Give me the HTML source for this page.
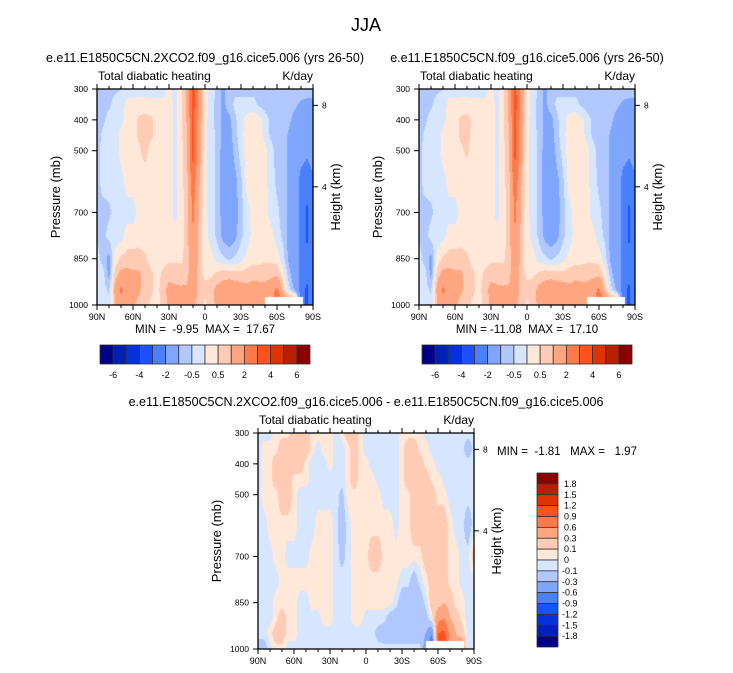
<!DOCTYPE html>
<html><head><meta charset="utf-8"><style>
body{margin:0;background:#fff;}
#root{position:relative;width:733px;height:673px;overflow:hidden;font-family:"Liberation Sans",sans-serif;}
canvas{position:absolute;}
svg{position:absolute;left:0;top:0;}
svg text{white-space:pre;}
</style></head><body>
<div id="root">
<canvas id="c1" width="216" height="216" style="left:97px;top:89px"></canvas>
<canvas id="c2" width="216" height="216" style="left:419px;top:89px"></canvas>
<canvas id="c3" width="216" height="216" style="left:258px;top:433px"></canvas>
<svg id="ov" width="733" height="673"></svg>
</div>
<script>
// pressure levels (mb) of data rows
const pressures=[300,350,400,450,500,600,700,775,850,900,950,1000];
// latitudes of data columns, 90N (+) to 90S (-), every 5 deg
const lats=[];for(let i=0;i<37;i++)lats.push(90-5*i);
const xTickLabels=["90N","60N","30N","0","30S","60S","90S"];
const pTicks=[300,400,500,700,850,1000];
const hTicks=[{km:8,p:353},{km:4,p:617}];
const levels12=[-6,-5,-4,-3,-2,-1,-0.5,0,0.5,1,2,3,4,5,6];
const cbLabels12=["-6","-4","-2","-0.5","0.5","2","4","6"];
const levels3=[-1.8,-1.5,-1.2,-0.9,-0.6,-0.3,-0.1,0,0.1,0.3,0.6,0.9,1.2,1.5,1.8];
const cbLabels3=["1.8","1.5","1.2","0.9","0.6","0.3","0.1","0","-0.1","-0.3","-0.6","-0.9","-1.2","-1.5","-1.8"];
const colors=["#00008a","#0022b4","#0033dd","#1e50ff","#4a7fff","#7fa6ff","#b0c8ff","#d6e6ff","#ffe8d8","#ffcbb4","#ffa680","#ff7a4a","#ff5220","#e03400","#b82000","#8a0000"];
// panel 1 field: one row per latitude column (90N..90S), values at pressures
const field1=[
[-0.7,-0.7,-0.7,-0.7,-0.7,-0.7,-0.6,-0.6,-0.3,-0.3,-0.3,-0.3],
[-0.7,-0.7,-0.6,-0.4,-0.3,-0.3,-0.7,-0.7,-0.7,-0.3,-0.3,-0.3],
[-0.7,-0.6,-0.3,-0.3,-0.3,-0.3,-0.6,-0.3,-1.2,-1.2,-0.6,-0.3],
[-0.6,-0.3,-0.3,-0.3,-0.3,-0.3,-0.3,-0.3,0.2,0.7,1.2,1.0],
[-0.5,-0.3,-0.2,0.2,0.2,-0.2,-0.3,-0.2,0.6,1.2,2.2,1.6],
[-0.3,0.2,0.3,0.3,0.3,0.2,-0.2,0.2,0.7,1.2,1.6,1.2],
[-0.3,0.2,0.3,0.3,0.3,0.2,-0.2,0.2,0.7,1.1,1.3,1.1],
[-0.2,0.2,0.6,0.6,0.4,0.2,0.2,0.3,0.7,1.1,1.1,0.8],
[-0.2,0.2,0.7,0.7,0.7,0.2,0.2,0.2,0.6,0.8,0.8,0.6],
[-0.3,0.2,0.6,0.6,0.3,0.2,0.2,0.2,0.3,0.6,0.6,0.4],
[-0.3,0.2,0.3,0.3,0.3,0.3,0.2,0.2,0.3,0.3,0.3,0.3],
[-0.3,0.2,0.3,0.3,0.3,0.3,0.3,0.3,0.3,0.6,0.8,0.7],
[0.2,0.3,0.3,0.3,0.3,0.3,0.3,0.3,0.4,0.8,1.2,1.1],
[-0.2,-0.2,-0.2,-0.2,-0.2,-0.2,-0.2,0.2,0.4,0.8,1.1,1.1],
[0.3,0.4,0.4,0.4,0.3,0.3,0.3,0.3,0.4,0.7,1.1,1.0],
[1.1,1.1,1.1,0.9,0.9,0.8,0.7,0.7,0.7,0.8,1.1,1.0],
[3.5,3.5,3.2,3.2,3.5,2.6,2.2,2.0,1.8,1.6,1.5,1.2],
[1.6,1.8,1.6,1.5,1.4,1.1,0.9,0.9,0.8,0.7,0.8,0.7],
[0.3,0.3,0.2,0.2,0.2,0.2,0.2,0.2,0.2,0.4,0.6,0.4],
[-0.2,-0.3,-0.3,-0.3,-0.3,-0.3,-0.3,-0.2,0.2,0.4,0.8,0.7],
[-0.6,-0.7,-0.7,-0.6,-0.6,-0.6,-0.6,-0.6,-0.2,0.6,1.2,1.2],
[-1.2,-1.2,-1.2,-1.2,-1.3,-1.3,-1.3,-1.2,-0.4,0.8,1.3,1.3],
[-0.7,-0.7,-1.2,-1.3,-1.4,-1.5,-1.5,-1.4,-0.6,0.8,1.4,1.4],
[-0.6,-0.4,-0.6,-0.7,-0.8,-1.2,-1.3,-1.2,-0.4,0.7,1.4,1.4],
[-0.7,-0.3,-0.2,-0.2,-0.3,-0.6,-0.7,-0.6,-0.2,0.7,1.3,1.3],
[-0.7,-0.3,0.2,0.3,0.3,0.2,-0.2,-0.3,0.2,0.7,1.2,1.2],
[-0.7,-0.3,0.3,0.3,0.3,0.3,0.2,0.2,0.3,0.8,1.3,1.5],
[-0.7,-0.6,0.2,0.3,0.3,0.3,0.3,0.2,0.3,0.8,1.2,1.3],
[-0.7,-0.7,-0.3,-0.2,0.2,0.2,0.2,0.2,0.4,0.8,1.2,1.3],
[-0.7,-0.7,-0.6,-0.6,-0.3,-0.3,-0.2,0.2,0.4,0.8,1.5,1.5],
[-0.7,-0.7,-0.7,-0.7,-0.7,-0.6,-0.4,-0.3,0.3,0.8,2.2,3.5],
[-0.7,-0.7,-0.7,-0.7,-0.7,-0.7,-0.7,-0.6,-0.3,0.3,0.8,2.5],
[-0.7,-0.8,-0.9,-1.1,-1.2,-1.2,-1.2,-1.2,-1.2,-0.8,-0.3,2.0],
[-0.7,-0.9,-1.2,-1.3,-1.4,-1.5,-1.5,-1.5,-1.5,-1.5,-1.2,3.0],
[-0.7,-1.1,-1.3,-1.4,-1.6,-2.3,-2.3,-2.2,-2.2,-2.3,-2.5,-2.5],
[-0.7,-1.2,-1.3,-1.5,-1.8,-2.6,-3.2,-3.2,-2.8,-2.8,-3.2,-3.2],
[-0.7,-1.2,-1.2,-1.4,-1.5,-2.2,-2.3,-2.2,-2.2,-2.2,-2.2,-2.2]];
// panel 2 field (control run)
const field2=[
[-0.7,-0.7,-0.7,-0.7,-0.7,-0.7,-0.6,-0.6,-0.3,-0.3,-0.3,-0.3],
[-0.7,-0.7,-0.6,-0.4,-0.3,-0.3,-0.7,-0.7,-0.7,-0.3,-0.3,-0.3],
[-0.7,-0.6,-0.3,-0.3,-0.3,-0.3,-0.6,-0.3,-1.2,-1.2,-0.6,-0.3],
[-0.6,-0.3,-0.3,-0.3,-0.3,-0.3,-0.3,-0.3,0.2,0.7,1.2,1.0],
[-0.5,-0.3,-0.2,0.2,0.2,-0.2,-0.3,-0.2,0.6,1.2,2.2,1.6],
[-0.3,0.2,0.3,0.3,0.3,0.2,-0.2,0.2,0.7,1.2,1.6,1.2],
[-0.3,0.2,0.3,0.3,0.3,0.2,-0.2,0.2,0.7,1.1,1.3,1.1],
[-0.2,0.2,0.6,0.6,0.4,0.2,0.2,0.3,0.7,1.1,1.1,0.8],
[-0.2,0.2,0.7,0.6,0.6,0.2,0.2,0.2,0.6,0.8,0.8,0.6],
[-0.3,0.2,0.4,0.4,0.3,0.2,0.2,0.2,0.3,0.6,0.6,0.4],
[-0.3,0.2,0.3,0.3,0.3,0.3,0.2,0.2,0.3,0.3,0.3,0.3],
[-0.3,0.2,0.3,0.3,0.3,0.3,0.3,0.3,0.3,0.6,0.8,0.7],
[0.2,0.3,0.3,0.3,0.3,0.3,0.3,0.3,0.4,0.8,1.2,1.1],
[-0.2,-0.2,-0.2,-0.2,-0.2,-0.2,-0.2,0.2,0.4,0.8,1.1,1.1],
[0.3,0.4,0.4,0.4,0.3,0.3,0.3,0.3,0.4,0.7,1.1,1.0],
[1.1,1.1,1.1,0.9,0.9,0.8,0.7,0.7,0.7,0.8,1.1,1.0],
[3.4,3.5,3.2,3.2,3.4,2.6,2.2,2.0,1.8,1.6,1.5,1.2],
[1.6,1.8,1.6,1.5,1.4,1.1,0.9,0.9,0.8,0.7,0.8,0.7],
[0.3,0.3,0.2,0.2,0.2,0.2,0.2,0.2,0.2,0.4,0.6,0.4],
[-0.2,-0.3,-0.3,-0.3,-0.3,-0.3,-0.3,-0.2,0.2,0.4,0.8,0.7],
[-0.6,-0.7,-0.7,-0.6,-0.6,-0.6,-0.6,-0.6,-0.2,0.6,1.2,1.2],
[-1.2,-1.2,-1.2,-1.2,-1.3,-1.3,-1.3,-1.2,-0.4,0.8,1.3,1.3],
[-0.7,-0.7,-1.2,-1.3,-1.4,-1.5,-1.5,-1.4,-0.6,0.8,1.4,1.4],
[-0.6,-0.4,-0.6,-0.7,-0.8,-1.2,-1.3,-1.2,-0.4,0.7,1.4,1.4],
[-0.7,-0.3,-0.2,-0.2,-0.3,-0.6,-0.7,-0.6,-0.2,0.7,1.3,1.3],
[-0.7,-0.3,0.2,0.3,0.3,0.2,-0.2,-0.3,0.2,0.7,1.2,1.2],
[-0.7,-0.3,0.3,0.3,0.3,0.3,0.2,0.2,0.3,0.8,1.3,1.5],
[-0.7,-0.6,0.2,0.3,0.3,0.3,0.3,0.2,0.3,0.8,1.2,1.3],
[-0.7,-0.7,-0.3,-0.2,0.2,0.2,0.2,0.2,0.4,0.8,1.2,1.3],
[-0.7,-0.7,-0.6,-0.6,-0.3,-0.3,-0.2,0.2,0.4,0.8,1.5,1.5],
[-0.7,-0.7,-0.7,-0.7,-0.7,-0.6,-0.4,-0.3,0.3,0.8,2.2,3.2],
[-0.7,-0.7,-0.7,-0.7,-0.7,-0.7,-0.7,-0.6,-0.3,0.3,0.8,2.5],
[-0.7,-0.8,-0.9,-1.1,-1.2,-1.2,-1.2,-1.2,-1.2,-0.8,-0.3,2.0],
[-0.7,-0.9,-1.2,-1.3,-1.4,-1.5,-1.5,-1.5,-1.5,-1.5,-1.2,3.0],
[-0.7,-1.1,-1.3,-1.4,-1.6,-2.3,-2.3,-2.2,-2.2,-2.3,-2.5,-2.5],
[-0.7,-1.2,-1.3,-1.5,-1.8,-2.6,-3.2,-3.2,-2.8,-2.8,-3.2,-3.2],
[-0.7,-1.2,-1.2,-1.4,-1.5,-2.2,-2.3,-2.2,-2.2,-2.2,-2.2,-2.2]];
// panel 3 field (difference)
const field3=[
[-0.05,-0.05,-0.05,-0.05,-0.05,-0.05,-0.05,-0.05,-0.05,-0.05,-0.05,-0.2],
[-0.05,0.05,0.05,0.05,0.05,-0.05,-0.05,-0.05,-0.05,-0.05,-0.05,-0.2],
[-0.05,0.05,0.05,0.05,0.05,0.05,-0.05,-0.05,-0.05,-0.05,0.05,-0.05],
[0.05,0.05,0.2,0.2,0.05,0.05,0.05,-0.05,0.05,0.05,0.2,0.05],
[0.05,0.2,0.2,0.2,0.2,0.05,0.05,0.05,0.05,0.2,0.2,0.05],
[0.05,0.2,0.2,0.2,0.2,0.05,-0.05,0.05,0.05,0.05,0.05,-0.05],
[0.2,0.2,0.2,0.05,0.05,0.05,-0.05,0.05,0.05,0.05,0.05,-0.05],
[0.2,0.2,0.2,0.05,-0.05,-0.05,-0.05,0.05,-0.05,-0.05,-0.05,-0.05],
[0.2,0.2,0.05,0.05,-0.05,-0.05,-0.05,0.05,-0.05,-0.05,-0.05,-0.05],
[0.05,0.05,-0.05,-0.05,-0.05,-0.05,0.05,0.05,0.05,-0.05,-0.05,-0.05],
[0.05,-0.05,-0.05,-0.05,-0.05,0.05,0.05,0.05,0.05,-0.05,-0.05,-0.05],
[0.05,0.05,-0.05,-0.05,-0.05,0.05,0.05,0.05,0.05,0.05,-0.05,-0.05],
[0.05,0.05,0.05,-0.05,-0.05,0.05,0.05,0.05,0.05,0.05,-0.05,-0.05],
[-0.05,-0.05,-0.05,-0.05,-0.05,-0.05,-0.05,-0.05,-0.05,-0.05,-0.05,-0.05],
[0.05,-0.05,-0.05,-0.05,-0.15,-0.2,-0.15,-0.05,-0.05,-0.05,-0.05,-0.05],
[0.2,0.05,0.05,0.05,0.05,-0.05,-0.05,-0.05,-0.05,-0.05,-0.05,-0.05],
[0.2,0.2,0.2,0.2,0.05,0.05,0.05,0.05,0.05,0.05,-0.05,-0.05],
[0.05,0.05,0.05,0.05,0.05,0.05,0.05,0.05,0.05,0.05,-0.05,-0.05],
[-0.05,-0.05,0.05,0.05,0.05,0.05,0.05,0.05,0.05,-0.05,-0.05,-0.05],
[-0.05,-0.05,-0.05,0.05,0.05,0.05,0.2,0.05,0.05,-0.05,-0.05,-0.05],
[-0.05,-0.05,-0.05,-0.05,0.05,0.05,0.2,0.05,0.05,-0.05,-0.15,-0.05],
[-0.05,-0.05,-0.05,-0.05,-0.05,0.05,0.05,0.05,0.05,-0.05,-0.2,-0.05],
[-0.05,-0.05,-0.05,-0.05,-0.05,0.05,0.05,0.05,0.05,-0.2,-0.2,-0.05],
[-0.05,-0.05,-0.05,-0.05,-0.05,-0.05,0.05,0.05,-0.05,-0.2,-0.2,-0.05],
[0.05,0.05,0.05,0.05,0.05,0.05,0.05,-0.05,-0.2,-0.2,-0.2,-0.05],
[0.05,0.2,0.2,0.2,0.05,0.05,0.05,-0.05,-0.2,-0.2,-0.2,-0.05],
[0.05,0.2,0.2,0.2,0.2,0.2,0.05,-0.2,-0.2,-0.2,-0.2,-0.05],
[0.05,0.05,0.2,0.2,0.2,0.2,0.05,-0.05,-0.2,-0.2,-0.2,-0.05],
[-0.05,0.05,0.05,0.2,0.2,0.2,0.2,0.05,-0.05,-0.2,-0.3,-0.5],
[-0.05,-0.05,0.05,0.05,0.2,0.2,0.2,0.2,0.2,0.05,-0.6,-1.0],
[-0.05,-0.05,-0.05,0.05,0.05,0.2,0.2,0.2,0.2,0.5,0.9,1.2],
[-0.05,-0.05,-0.05,-0.05,0.05,0.2,0.2,0.2,0.3,0.6,1.0,1.4],
[-0.05,-0.05,-0.05,-0.05,-0.05,0.05,0.05,0.05,0.2,0.3,0.5,0.6],
[-0.05,-0.05,-0.05,-0.05,-0.05,-0.05,0.05,0.05,0.05,0.2,0.3,0.4],
[-0.05,-0.05,-0.05,-0.05,-0.05,-0.05,-0.05,-0.05,0.05,0.05,0.2,0.6],
[-0.05,-0.2,-0.05,-0.05,-0.05,-0.2,-0.05,-0.05,-0.05,-0.05,-0.05,-0.05],
[-0.05,-0.05,-0.05,-0.05,-0.05,-0.05,0.2,-0.05,-0.05,-0.05,-0.05,-0.05]];

const W=216,H=216;
function latToX(lat){return (90-lat)/180*W;}
function pToY(p){return (p-300)/700*H;}
function hex(c){return [parseInt(c.substr(1,2),16),parseInt(c.substr(3,2),16),parseInt(c.substr(5,2),16)];}
const rgb=colors.map(hex);
function lev(v,levels){let i=0;while(i<levels.length&&v>=levels[i])i++;return i;}
function sample(field,lat,p){
  let fi=(90-lat)/5; fi=Math.max(0,Math.min(35.999,fi)); const i=Math.floor(fi),fx=fi-i;
  let j=0; while(j<pressures.length-2&&p>pressures[j+1])j++;
  let fy=(p-pressures[j])/(pressures[j+1]-pressures[j]); fy=Math.max(0,Math.min(1,fy));
  const a=field[i][j],b=field[i+1][j],c=field[i][j+1],d=field[i+1][j+1];
  return (a*(1-fx)+b*fx)*(1-fy)+(c*(1-fx)+d*fx)*fy;
}
function drawField(id,field,levels,maskLat){
  const cv=document.getElementById(id),ctx=cv.getContext('2d');
  const img=ctx.createImageData(W,H);
  for(let y=0;y<H;y++)for(let x=0;x<W;x++){
    const lat=90-(x+0.5)/W*180,p=300+(y+0.5)/H*700;
    let col=rgb[lev(sample(field,lat,p),levels)];
    if(lat<maskLat&&lat>-82&&p>975)col=[255,255,255];
    const k=(y*W+x)*4;img.data[k]=col[0];img.data[k+1]=col[1];img.data[k+2]=col[2];img.data[k+3]=255;
  }
  ctx.putImageData(img,0,0);
}
drawField('c1',field1,levels12,-50);
drawField('c2',field2,levels12,-50);
drawField('c3',field3,levels3,-50);

const ov=document.getElementById('ov');const NS='http://www.w3.org/2000/svg';
function el(tag,attrs,txt){const e=document.createElementNS(NS,tag);for(const k in attrs)e.setAttribute(k,attrs[k]);if(txt!==undefined)e.textContent=txt;ov.appendChild(e);return e;}
function txt(x,y,s,size,anchor,name,rot){const t=el('text',{x:x,y:y,'font-size':size,'text-anchor':anchor||'start','font-family':'Liberation Sans, sans-serif',fill:'#000'},s);
  if(rot)t.setAttribute('transform','rotate(-90 '+x+' '+y+')');
  
  return t;}
function panel(x0,y0,title,tcx,minmax,mmX,mmY,mmAnchor){
  const r=el('rect',{x:x0,y:y0,width:W,height:H,fill:'none',stroke:'#000','stroke-width':1.3});
  
  
  for(let lat=90;lat>=-90;lat-=10){
    const x=x0+latToX(lat),maj=(lat%30===0);const L=maj?5:3;
    const t1=el('line',{x1:x,x2:x,y1:y0,y2:y0-L,stroke:'#000','stroke-width':1});
    
    
    const t2=el('line',{x1:x,x2:x,y1:y0+H,y2:y0+H+L,stroke:'#000','stroke-width':1});
    
    
  }
  xTickLabels.forEach((s,i)=>{txt(x0+latToX(90-30*i),y0+H+15,s,9,'middle','x-tick-label');});
  pTicks.forEach(p=>{const y=y0+pToY(p);
    const t=el('line',{x1:x0,x2:x0-5,y1:y,y2:y,stroke:'#000','stroke-width':1});
    
    
    txt(x0-9,y+3,String(p),8.5,'end','y-tick-label');});
  hTicks.forEach(h=>{const y=y0+pToY(h.p);
    const t=el('line',{x1:x0+W,x2:x0+W+5,y1:y,y2:y,stroke:'#000','stroke-width':1});
    
    
    txt(x0+W+9,y+3,String(h.km),8.5,'start','height-tick-label');});
  txt(x0-37,y0+H/2,'Pressure (mb)',13,'middle','y-axis-title',true);
  txt(x0+W+27,y0+H/2,'Height (km)',13,'middle','height-axis-title',true);
  txt(x0+1,y0-9,'Total diabatic heating',12,'start','left-subtitle');
  txt(x0+W,y0-9,'K/day',12,'end','units-label');
  txt(tcx,y0-27,title,12.5,'middle','panel-title');
  txt(mmX,mmY,minmax,11.5,mmAnchor,'min-max-label');
}
txt(366,31,'JJA',18,'middle','main-title');
panel(97,89,'e.e11.E1850C5CN.2XCO2.f09_g16.cice5.006 (yrs 26-50)',205,'MIN =  -9.95  MAX =  17.67',205,333,'middle');
panel(419,89,'e.e11.E1850C5CN.f09_g16.cice5.006 (yrs 26-50)',527,'MIN = -11.08  MAX =  17.10',527,333,'middle');
panel(258,433,'e.e11.E1850C5CN.2XCO2.f09_g16.cice5.006 - e.e11.E1850C5CN.f09_g16.cice5.006',366,'MIN =  -1.81   MAX =   1.97',497,455,'start');
// horizontal colorbars
function hbar(x0,name){
  const bw=210/16;
  colors.forEach((c,i)=>{const r=el('rect',{x:x0+i*bw,y:345,width:bw,height:19,fill:c,stroke:'#333','stroke-width':0.8});
    
    });
  cbLabels12.forEach((s,i)=>{txt(x0+(1+2*i)*bw,378,s,9,'middle',name+'-label');});
}
hbar(100,'colorbar-left');hbar(422,'colorbar-right');
// vertical colorbar
(function(){const bh=174/16;
  colors.slice().reverse().forEach((c,i)=>{const r=el('rect',{x:537,y:473+i*bh,width:21,height:bh,fill:c,stroke:'#333','stroke-width':0.8});
    
    });
  cbLabels3.forEach((s,i)=>{txt(s.charAt(0)==='-'?562:564,473+(i+1)*bh+3,s,9,'start','colorbar-diff-label');});
})();
</script>
</body></html>
